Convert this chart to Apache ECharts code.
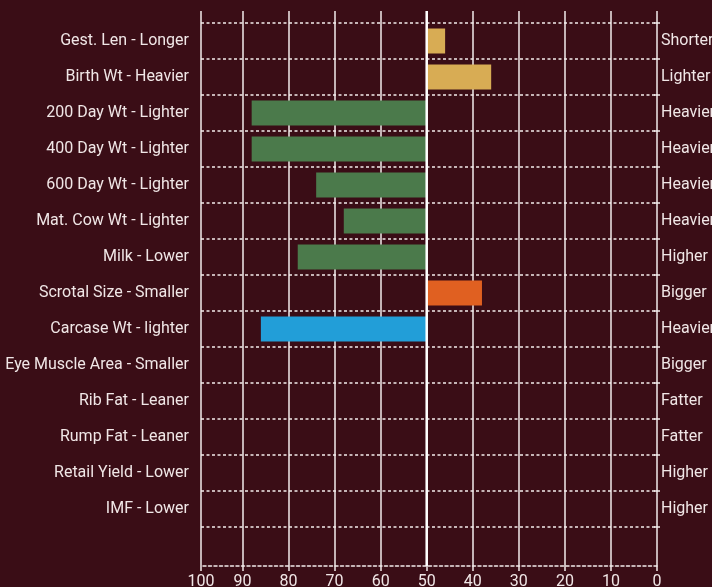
<!DOCTYPE html>
<html>
<head>
<meta charset="utf-8">
<script src="https://cdn.jsdelivr.net/npm/echarts@6/dist/echarts.min.js"></script>
<style>
html,body{margin:0;padding:0;background:#3a0d16;}
#chart{width:712px;height:587px;}
</style>
</head>
<body>
<div id="chart"></div>
<script>
// ---- data ----
const leftLabels = ["Gest. Len - Longer","Birth Wt - Heavier","200 Day Wt - Lighter","400 Day Wt - Lighter","600 Day Wt - Lighter","Mat. Cow Wt - Lighter","Milk - Lower","Scrotal Size - Smaller","Carcase Wt - lighter","Eye Muscle Area - Smaller","Rib Fat - Leaner","Rump Fat - Leaner","Retail Yield - Lower","IMF - Lower"];
const rightLabels = ["Shorter","Lighter","Heavier","Heavier","Heavier","Heavier","Higher","Bigger","Heavier","Bigger","Fatter","Fatter","Higher","Higher"];
const values = [46, 36, 88, 88, 74, 68, 78, 38, 86, null, null, null, null, null];
const barColors = ["#d8ac54","#d8ac54","#4b7a4b","#4b7a4b","#4b7a4b","#4b7a4b","#4b7a4b","#e06021","#229ed8","#888","#888","#888","#888","#888"];
const midValue = 50;
const axisMin = 0;
const axisMax = 99;
const tickInterval = 10;

// ---- derived for stacking around the mid value ----
const baseVals = values.map(v => v == null ? null : Math.min(v, midValue));
const spanVals = values.map((v, i) => v == null ? null : {value: Math.abs(v - midValue), itemStyle: {color: barColors[i]}});

const textColor = '#f0e6e6';
const font = 'Roboto';
const chart = echarts.init(document.getElementById('chart'), null, {renderer: 'canvas'});
chart.setOption({
  backgroundColor: '#3a0d16',
  animation: false,
  grid: [
    {left: 201, width: 456, top: 11, height: 555, outerBoundsMode: 'none', containLabel: false},
    {left: 201, width: 456, top: 23, height: 504, outerBoundsMode: 'none', containLabel: false}
  ],
  xAxis: [
    {
      gridIndex: 0, type: 'value', inverse: true, min: axisMin, max: axisMax, interval: tickInterval,
      axisLine: {show: true, lineStyle: {color: '#f3ecec', type: [3, 2.5], width: 1.5}},
      axisTick: {show: true, length: 5, lineStyle: {color: '#f3ecec', width: 1.5}},
      axisLabel: {color: textColor, fontFamily: font, fontSize: 16, margin: 8,
        formatter: v => (v >= axisMax ? '100' : String(v))},
      splitLine: {show: true, lineStyle: {color: '#f3ecec', width: 1.5}}
    },
    {
      gridIndex: 1, type: 'value', inverse: true, min: axisMin, max: axisMax, interval: tickInterval,
      show: false, splitLine: {show: false}
    }
  ],
  yAxis: [
    {gridIndex: 0, type: 'value', min: 0, max: 1, show: false, splitLine: {show: false}},
    {
      gridIndex: 1, type: 'category', inverse: true, data: leftLabels, position: 'left',
      axisLine: {show: false},
      axisTick: {show: true, length: 5, lineStyle: {color: '#f3ecec', type: [3, 2.5], width: 1.5}},
      axisLabel: {color: textColor, fontFamily: font, fontSize: 16, margin: 12},
      splitLine: {show: true, lineStyle: {color: '#f3ecec', type: [3, 2.5], width: 1.5}}
    },
    {
      gridIndex: 1, type: 'category', inverse: true, data: rightLabels, position: 'right',
      axisLine: {show: false},
      axisTick: {show: true, length: 3, lineStyle: {color: '#f3ecec', type: [3, 2.5], width: 1.5}},
      axisLabel: {color: textColor, fontFamily: font, fontSize: 16, margin: 4},
      splitLine: {show: false}
    }
  ],
  series: [
    {
      type: 'bar', xAxisIndex: 1, yAxisIndex: 1, stack: 'b', barWidth: 25,
      data: baseVals, itemStyle: {color: 'rgba(0,0,0,0)'}, silent: true, z: 2
    },
    {
      type: 'bar', xAxisIndex: 1, yAxisIndex: 1, stack: 'b', barWidth: 25,
      data: spanVals, z: 2
    },
    {
      type: 'line', xAxisIndex: 0, yAxisIndex: 0, showSymbol: false, silent: true,
      data: [[midValue, 0], [midValue, 1]],
      lineStyle: {color: '#ffffff', width: 2.5}, z: 5
    }
  ]
});
</script>
</body>
</html>
